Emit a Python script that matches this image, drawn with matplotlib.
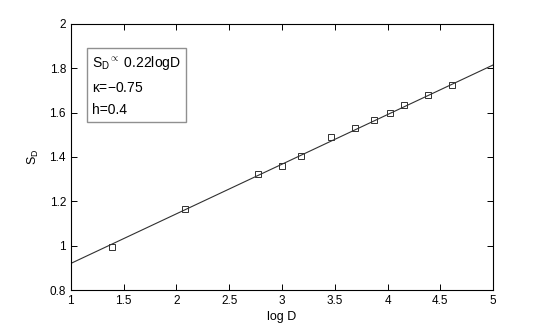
import matplotlib
matplotlib.use('Agg')
import matplotlib.pyplot as plt

# Measured points (log D, S_D)
logD = [1.386, 2.079, 2.77, 2.996, 3.178, 3.466, 3.689, 3.871, 4.025, 4.159, 4.382, 4.605]
SD = [0.996, 1.166, 1.321, 1.359, 1.405, 1.490, 1.529, 1.565, 1.600, 1.634, 1.679, 1.724]

# Fitted line end points
fit_x = [1, 5]
fit_y = [0.92, 1.815]

xticks = [1, 1.5, 2, 2.5, 3, 3.5, 4, 4.5, 5]
yticks = [0.8, 1, 1.2, 1.4, 1.6, 1.8, 2]

plt.rcParams['font.family'] = ['Liberation Sans', 'DejaVu Sans']
plt.rcParams['mathtext.fontset'] = 'custom'
plt.rcParams['mathtext.rm'] = 'Liberation Sans'
plt.rcParams['mathtext.it'] = 'Liberation Sans'

fig = plt.figure(figsize=(5.45, 3.27), dpi=100)
ax = fig.add_axes([0.130, 0.113, 0.775, 0.814])

ax.plot(fit_x, fit_y, '-', color='#303030', lw=0.8)
ax.plot(logD, SD, 's', mfc='none', mec='#303030', ms=5, mew=0.7)

ax.set_xlim(1, 5)
ax.set_ylim(0.8, 2)
ax.set_xticks(xticks)
ax.set_xticklabels(['1', '1.5', '2', '2.5', '3', '3.5', '4', '4.5', '5'])
ax.set_yticks(yticks)
ax.set_yticklabels(['0.8', '1', '1.2', '1.4', '1.6', '1.8', '2'])
ax.tick_params(direction='in', top=True, right=True, labelsize=8.5, length=4, width=0.7)
for s in ax.spines.values():
    s.set_linewidth(0.8)

ax.set_xlabel('log D', fontsize=9, labelpad=3)
ax.set_ylabel(r'S$_\mathrm{D}$', fontsize=9, labelpad=6)

txt = 'S$_\\mathrm{D}$$^{\\propto}$ 0.22logD\n$\\kappa$=\u22120.75\nh=0.4'
ax.text(0.05, 0.885, txt, transform=ax.transAxes, fontsize=10, va='top', ha='left',
        linespacing=1.75,
        bbox=dict(boxstyle='square,pad=0.35', fc='white', ec='#909090', lw=1))

fig.savefig('out.png', dpi=100)
